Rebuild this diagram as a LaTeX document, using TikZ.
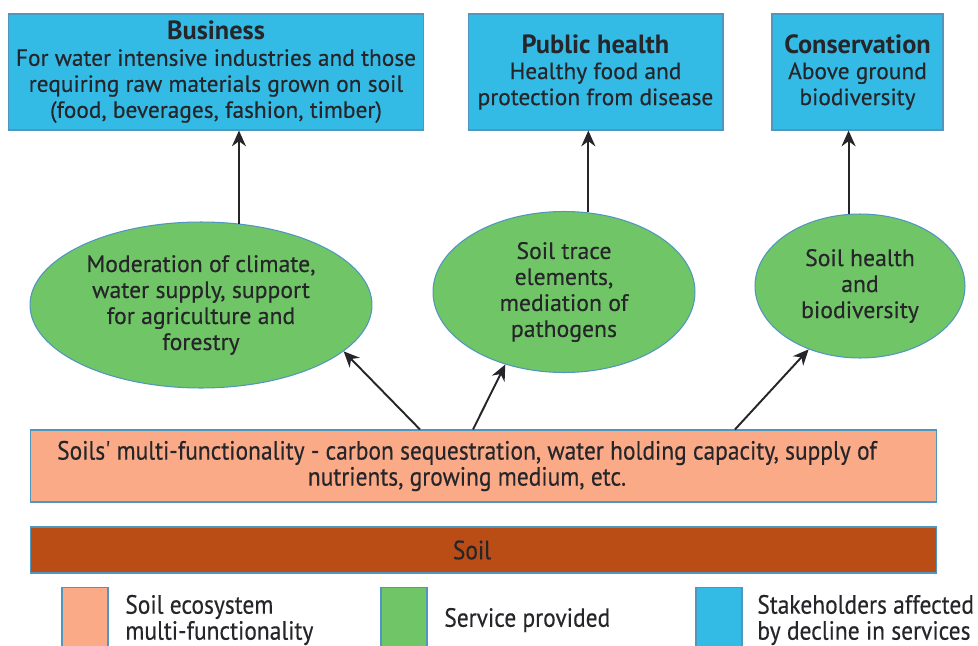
\documentclass[tikz,border=0pt]{standalone}
\usepackage{fontspec}
\setmainfont{PT Sans}[FakeBold=0.35]
\newfontfamily\condfont[FakeStretch=0.89,FakeBold=0.35]{PT Sans}
\newfontfamily\headfont{PT Sans Bold}
\usetikzlibrary{arrows.meta,shapes.geometric}

\definecolor{stakeblue}{RGB}{51,187,230}
\definecolor{servgreen}{RGB}{112,197,102}
\definecolor{multiorange}{RGB}{251,170,136}
\definecolor{soilbrown}{RGB}{186,76,22}
\definecolor{edgeblue}{RGB}{80,150,190}
\definecolor{inkgray}{RGB}{38,38,42}

\newcommand{\headline}[1]{{\headfont\fontsize{15}{14.8}\selectfont #1}}

\tikzset{
  stake/.style={rectangle, draw=edgeblue, fill=stakeblue, line width=0.6pt, text=inkgray,
    align=center, minimum height=2.32cm, inner sep=0pt, font=\fontsize{13.3}{14.8}\selectfont},
  service/.style={ellipse, draw=edgeblue, fill=servgreen, line width=0.6pt, text=inkgray,
    align=center, inner sep=0pt, font=\fontsize{13.5}{14.8}\selectfont},
  layer/.style={rectangle, draw=edgeblue, line width=0.6pt, minimum width=18.14cm, inner sep=0pt},
  layertext/.style={text=inkgray, align=center, inner sep=0pt, xshift=-0.33cm,
    font=\condfont\fontsize{15}{14.8}\selectfont},
  keybox/.style={rectangle, draw=edgeblue, line width=0.6pt, minimum width=0.92cm,
    minimum height=1.3cm, inner sep=0pt},
  keytext/.style={anchor=west, align=left, text=inkgray, inner sep=0pt,
    font=\condfont\fontsize{15}{14.8}\selectfont},
  arr/.style={draw=inkgray, line width=1.1pt, -{Stealth[length=9pt,width=8pt]}},
}

\begin{document}
\begin{tikzpicture}[x=0.02cm, y=-0.02cm]
  \useasboundingbox (0,0) rectangle (978,646);

  % Stakeholders
  \node[stake, minimum width=8.32cm] (biz) at (216,72)
    {\headline{Business}\\For water intensive industries and those\\requiring raw materials grown on soil\\(food, beverages, fashion, timber)};
  \node[stake, minimum width=5.1cm] (pub) at (595.5,72)
    {\headline{Public health}\\Healthy food and\\protection from disease};
  \node[stake, minimum width=3.42cm] (cons) at (857.5,72)
    {\headline{Conservation}\\Above ground\\biodiversity};

  % Services
  \node[service, minimum width=6.84cm, minimum height=3.32cm] (ell1) at (201,305)
    {Moderation of climate,\\water supply, support\\for agriculture and\\forestry};
  \node[service, minimum width=5.24cm, minimum height=3.22cm] (ell2) at (564,292)
    {Soil trace\\elements,\\mediation of\\pathogens};
  \node[service, minimum width=4.2cm, minimum height=2.88cm] (ell3) at (860,286)
    {Soil health\\and\\biodiversity};

  % Layers
  \node[layer, fill=multiorange, minimum height=1.44cm] (multi) at (483.5,466) {};
  \node[layertext] (multitext) at (multi)
    {Soils' multi-functionality - carbon sequestration, water holding capacity, supply of\\nutrients, growing medium, etc.};
  \node[layer, fill=soilbrown, minimum height=0.92cm] (soil) at (483.5,550) {};
  \node[layertext, xshift=0.1cm] (soiltext) at (soil) {Soil};

  % Key
  \node[keybox, fill=multiorange] (keymulti) at (85,620) {};
  \node[keybox, fill=servgreen] (keyserv) at (404,620) {};
  \node[keybox, fill=stakeblue] (keystake) at (719,620) {};
  \node[keytext] (keymultitext) at (125,620) {Soil ecosystem\\multi-functionality};
  \node[keytext] (keyservtext) at (444,620) {Service provided};
  \node[keytext] (keystaketext) at (757,620) {Stakeholders affected\\by decline in services};

  % Arrows
  \draw[arr] (ell1.65) -- (ell1.65 |- biz.south);
  \draw[arr] (ell2.73) -- (ell2.73 |- pub.south);
  \draw[arr] (ell3.99) -- (ell3.99 |- cons.south);
  \draw[arr] ([xshift=-1.27cm]multi.north) -- (ell1.-18);
  \draw[arr] ([xshift=-0.21cm]multi.north) -- (ell2.-129);
  \draw[arr] ([xshift=5.03cm]multi.north) -- (ell3.-129);
\end{tikzpicture}
\end{document}
